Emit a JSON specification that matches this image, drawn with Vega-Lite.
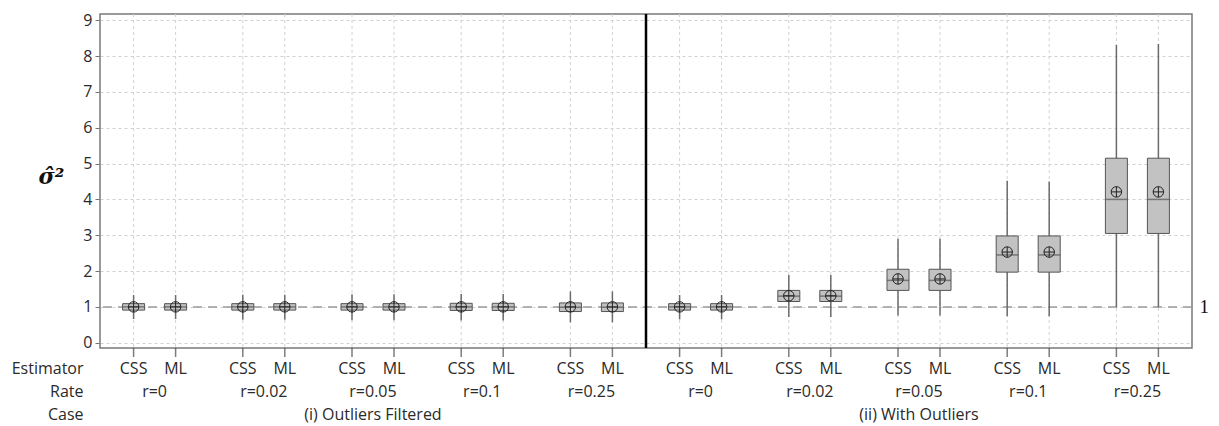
{
  "$schema": "https://vega.github.io/schema/vega-lite/v6.json",
  "padding": {"left": 11, "top": 11, "right": 5, "bottom": 0},
  "background": "white",
  "datasets": {
    "boxes": [
      {"grp": "i0", "est": "CSS", "lo": 0.66, "q1": 0.91, "med": 1.0, "q3": 1.09, "hi": 1.33, "mean": 1.0},
      {"grp": "i0", "est": "ML", "lo": 0.66, "q1": 0.91, "med": 1.0, "q3": 1.09, "hi": 1.33, "mean": 1.0},
      {"grp": "i0.02", "est": "CSS", "lo": 0.64, "q1": 0.91, "med": 1.0, "q3": 1.09, "hi": 1.34, "mean": 1.0},
      {"grp": "i0.02", "est": "ML", "lo": 0.64, "q1": 0.91, "med": 1.0, "q3": 1.09, "hi": 1.34, "mean": 1.0},
      {"grp": "i0.05", "est": "CSS", "lo": 0.63, "q1": 0.91, "med": 1.0, "q3": 1.09, "hi": 1.35, "mean": 1.0},
      {"grp": "i0.05", "est": "ML", "lo": 0.63, "q1": 0.91, "med": 1.0, "q3": 1.09, "hi": 1.35, "mean": 1.0},
      {"grp": "i0.1", "est": "CSS", "lo": 0.62, "q1": 0.9, "med": 1.0, "q3": 1.1, "hi": 1.36, "mean": 1.0},
      {"grp": "i0.1", "est": "ML", "lo": 0.62, "q1": 0.9, "med": 1.0, "q3": 1.1, "hi": 1.36, "mean": 1.0},
      {"grp": "i0.25", "est": "CSS", "lo": 0.57, "q1": 0.87, "med": 0.99, "q3": 1.11, "hi": 1.43, "mean": 1.0},
      {"grp": "i0.25", "est": "ML", "lo": 0.57, "q1": 0.87, "med": 0.99, "q3": 1.11, "hi": 1.43, "mean": 1.0},
      {"grp": "ii0", "est": "CSS", "lo": 0.65, "q1": 0.91, "med": 1.0, "q3": 1.09, "hi": 1.33, "mean": 1.0},
      {"grp": "ii0", "est": "ML", "lo": 0.65, "q1": 0.91, "med": 1.0, "q3": 1.09, "hi": 1.33, "mean": 1.0},
      {"grp": "ii0.02", "est": "CSS", "lo": 0.72, "q1": 1.15, "med": 1.3, "q3": 1.46, "hi": 1.89, "mean": 1.31},
      {"grp": "ii0.02", "est": "ML", "lo": 0.72, "q1": 1.15, "med": 1.3, "q3": 1.46, "hi": 1.89, "mean": 1.31},
      {"grp": "ii0.05", "est": "CSS", "lo": 0.76, "q1": 1.46, "med": 1.74, "q3": 2.05, "hi": 2.9, "mean": 1.78},
      {"grp": "ii0.05", "est": "ML", "lo": 0.76, "q1": 1.46, "med": 1.74, "q3": 2.05, "hi": 2.9, "mean": 1.78},
      {"grp": "ii0.1", "est": "CSS", "lo": 0.74, "q1": 1.97, "med": 2.45, "q3": 2.98, "hi": 4.52, "mean": 2.53},
      {"grp": "ii0.1", "est": "ML", "lo": 0.74, "q1": 1.97, "med": 2.45, "q3": 2.98, "hi": 4.5, "mean": 2.53},
      {"grp": "ii0.25", "est": "CSS", "lo": 1.0, "q1": 3.05, "med": 4.0, "q3": 5.15, "hi": 8.31, "mean": 4.21},
      {"grp": "ii0.25", "est": "ML", "lo": 1.0, "q1": 3.05, "med": 4.0, "q3": 5.15, "hi": 8.34, "mean": 4.21}
    ],
    "groups": [
      {"grp": "i0", "rate": "r=0"},
      {"grp": "i0.02", "rate": "r=0.02"},
      {"grp": "i0.05", "rate": "r=0.05"},
      {"grp": "i0.1", "rate": "r=0.1"},
      {"grp": "i0.25", "rate": "r=0.25"},
      {"grp": "ii0", "rate": "r=0"},
      {"grp": "ii0.02", "rate": "r=0.02"},
      {"grp": "ii0.05", "rate": "r=0.05"},
      {"grp": "ii0.1", "rate": "r=0.1"},
      {"grp": "ii0.25", "rate": "r=0.25"}
    ],
    "cases": [
      {"grp": "i0.05", "label": "(i) Outliers Filtered"},
      {"grp": "ii0.05", "label": "(ii) With Outliers"}
    ],
    "divider": [{"grp": "ii0"}]
  },
  "vconcat": [
    {
      "width": 1092,
      "height": 334,
      "view": {"stroke": "#7a7a7a", "strokeWidth": 1.5},
      "resolve": {"axis": {"y": "independent"}},
      "layer": [
        {
          "data": {"name": "boxes"},
          "mark": {"type": "rule", "color": "#d2d2d2", "strokeDash": [3, 3], "strokeWidth": 1},
          "encoding": {
            "x": {"field": "grp", "type": "nominal", "axis": null, "scale": {"domain": ["i0","i0.02","i0.05","i0.1","i0.25","ii0","ii0.02","ii0.05","ii0.1","ii0.25"], "paddingInner": 0, "paddingOuter": 0}},
            "xOffset": {"field": "est", "type": "nominal", "scale": {"domain": ["CSS", "ML"], "paddingInner": 0.476, "paddingOuter": 0.538}}
          }
        },
        {
          "data": {"values": [{}]},
          "mark": {"type": "rule", "color": "#9a9a9a", "strokeDash": [9, 6], "strokeWidth": 1.5},
          "encoding": {
            "y": {"datum": 1, "type": "quantitative", "scale": {"domain": [-0.148, 9.176], "nice": false, "zero": false},
              "axis": {"orient": "right", "values": [1], "ticks": false, "domain": false, "grid": false, "title": null, "labelFont": "Liberation Serif", "labelFontSize": 19, "labelPadding": 7, "labelColor": "#111"}}
          }
        },
        {
          "data": {"name": "boxes"},
          "mark": {"type": "rule", "color": "#6b6b6b", "strokeWidth": 1.5},
          "encoding": {
            "x": {"field": "grp", "type": "nominal", "axis": null},
            "xOffset": {"field": "est", "type": "nominal"},
            "y": {"field": "lo", "type": "quantitative", "scale": {"domain": [-0.148, 9.176], "nice": false, "zero": false},
              "axis": {"values": [0,1,2,3,4,5,6,7,8,9], "title": "σ̂²", "titleAngle": 0, "titleFont": "DejaVu Serif", "titleFontSize": 22, "titleFontStyle": "italic", "titleFontWeight": "bold", "titleColor": "#111", "titleAlign": "center", "titleBaseline": "middle", "titleX": -49, "titleY": 162, "grid": true, "gridDash": [3, 3], "gridColor": "#d0d0d0", "domain": false, "tickSize": 5, "tickColor": "#777", "labelFont": "Open Sans", "labelFontSize": 16, "labelColor": "#2a2a2a", "labelPadding": 3}},
            "y2": {"field": "hi"}
          }
        },
        {
          "data": {"name": "boxes"},
          "mark": {"type": "bar", "fill": "#c2c2c2", "stroke": "#555555", "strokeWidth": 1},
          "encoding": {
            "x": {"field": "grp", "type": "nominal", "axis": null},
            "xOffset": {"field": "est", "type": "nominal"},
            "y": {"field": "q1", "type": "quantitative", "axis": null, "scale": {"domain": [-0.148, 9.176], "nice": false, "zero": false}},
            "y2": {"field": "q3"}
          }
        },
        {
          "data": {"name": "boxes"},
          "mark": {"type": "tick", "color": "#555555", "size": 22, "thickness": 1.5},
          "encoding": {
            "x": {"field": "grp", "type": "nominal", "axis": null},
            "xOffset": {"field": "est", "type": "nominal"},
            "y": {"field": "med", "type": "quantitative", "axis": null, "scale": {"domain": [-0.148, 9.176], "nice": false, "zero": false}}
          }
        },
        {
          "data": {"name": "boxes"},
          "mark": {"type": "point", "shape": "M1,0A1,1 0 1,1 -1,0A1,1 0 1,1 1,0Z M-1,0L1,0 M0,-1L0,1", "filled": false, "stroke": "#222", "strokeWidth": 1, "size": 110, "opacity": 1},
          "encoding": {
            "x": {"field": "grp", "type": "nominal", "axis": null},
            "xOffset": {"field": "est", "type": "nominal"},
            "y": {"field": "mean", "type": "quantitative", "axis": null, "scale": {"domain": [-0.148, 9.176], "nice": false, "zero": false}}
          }
        },
        {
          "data": {"name": "divider"},
          "mark": {"type": "rule", "color": "#000000", "strokeWidth": 2.5},
          "encoding": {
            "x": {"field": "grp", "type": "nominal", "axis": null, "bandPosition": 0}
          }
        }
      ]
    },
    {
      "width": 1092,
      "height": 9,
      "view": {"stroke": null},
      "data": {"name": "boxes"},
      "mark": {"type": "tick", "color": "#444444", "thickness": 1.5, "size": 9, "orient": "vertical"},
      "encoding": {
        "x": {"field": "grp", "type": "nominal", "axis": null, "scale": {"domain": ["i0","i0.02","i0.05","i0.1","i0.25","ii0","ii0.02","ii0.05","ii0.1","ii0.25"], "paddingInner": 0, "paddingOuter": 0}},
        "xOffset": {"field": "est", "type": "nominal", "scale": {"domain": ["CSS", "ML"], "paddingInner": 0.476, "paddingOuter": 0.538}}
      }
    },
    {
      "width": 1092,
      "height": 69,
      "view": {"stroke": null},
      "layer": [
        {
          "data": {"name": "boxes"},
          "mark": {"type": "text", "font": "Open Sans", "fontSize": 16, "color": "#2a2a2a", "baseline": "middle", "align": "center"},
          "encoding": {
            "x": {"field": "grp", "type": "nominal", "axis": null, "scale": {"domain": ["i0","i0.02","i0.05","i0.1","i0.25","ii0","ii0.02","ii0.05","ii0.1","ii0.25"], "paddingInner": 0, "paddingOuter": 0}},
            "xOffset": {"field": "est", "type": "nominal", "scale": {"domain": ["CSS", "ML"], "paddingInner": 0.476, "paddingOuter": 0.538}},
            "y": {"datum": "Estimator", "type": "nominal", "scale": {"type": "point", "domain": ["Estimator", "Rate", "Case"], "padding": 0.5},
              "axis": {"domain": false, "ticks": false, "grid": false, "title": null, "labelPadding": 17, "labelFont": "Open Sans", "labelFontSize": 16, "labelColor": "#2a2a2a"}},
            "text": {"field": "est"}
          }
        },
        {
          "data": {"name": "groups"},
          "mark": {"type": "text", "font": "Open Sans", "fontSize": 16, "color": "#2a2a2a", "baseline": "middle", "align": "center"},
          "encoding": {
            "x": {"field": "grp", "type": "nominal", "axis": null},
            "y": {"datum": "Rate", "type": "nominal"},
            "text": {"field": "rate"}
          }
        },
        {
          "data": {"name": "cases"},
          "mark": {"type": "text", "font": "Open Sans", "fontSize": 16, "color": "#2a2a2a", "baseline": "middle", "align": "center"},
          "encoding": {
            "x": {"field": "grp", "type": "nominal", "axis": null},
            "y": {"datum": "Case", "type": "nominal"},
            "text": {"field": "label"}
          }
        }
      ]
    }
  ],
  "spacing": 0,
  "bounds": "flush",
  "config": {"view": {"stroke": null}, "font": "Open Sans"}
}
